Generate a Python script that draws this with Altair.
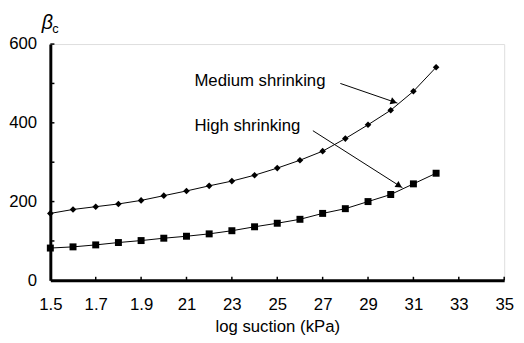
import altair as alt
import pandas as pd

# ---- data ----
log_suction = [1.5, 1.6, 1.7, 1.8, 1.9, 2.0, 2.1, 2.2, 2.3, 2.4,
               2.5, 2.6, 2.7, 2.8, 2.9, 3.0, 3.1, 3.2]
medium = [170, 180, 187, 194, 203, 215, 227, 240, 252, 267,
          285, 305, 328, 360, 395, 432, 480, 541]
high = [82, 85, 90, 96, 101, 107, 112, 118, 126, 136,
        145, 155, 170, 182, 200, 218, 245, 272]

x_ticks = [1.5, 1.7, 1.9, 2.1, 2.3, 2.5, 2.7, 2.9, 3.1, 3.3, 3.5]
x_tick_labels = ["1.5", "1.7", "1.9", "21", "23", "25", "27", "29", "31", "33", "35"]
y_labels = [0, 200, 400, 600]
y_minor = [100, 200, 300, 400, 500, 600]

# annotations (label, text pos, arrow start, arrow end) in data units
ann_text = ["Medium shrinking", "High shrinking"]
ann_tx = [2.135, 2.135]
ann_ty = [505, 393]
arr_x1 = [2.778, 2.657]
arr_y1 = [500, 380]
arr_x2 = [3.030, 3.052]
arr_y2 = [450, 235]
arr_angle = [19, 32.5]

FONT = "Liberation Sans"
FS = 17

df_m = pd.DataFrame({"x": log_suction, "y": medium})
df_h = pd.DataFrame({"x": log_suction, "y": high})

xscale = alt.Scale(domain=[1.5, 3.5], nice=False, zero=False)
yscale = alt.Scale(domain=[0, 600], nice=False)

label_arr = "[" + ",".join("'" + s + "'" for s in x_tick_labels) + "]"

x_axis = alt.Axis(values=x_ticks, labelExpr=label_arr + "[round((datum.value-1.5)/0.2)]",
                  ticks=False, grid=False, domainColor="black", domainWidth=3,
                  labelFont=FONT, labelFontSize=FS, labelColor="black", labelPadding=17,
                  title="log suction (kPa)", titleFont=FONT, titleFontSize=FS,
                  titleFontWeight="normal", titleColor="black", titlePadding=6,
                  labelFlush=False)
y_axis = alt.Axis(values=y_labels, ticks=False, grid=False, domainColor="black",
                  domainWidth=3, labelFont=FONT, labelFontSize=FS, labelColor="black",
                  labelPadding=14, title=None)

line_m = alt.Chart(df_m).mark_line(color="black", strokeWidth=1).encode(
    x=alt.X("x:Q", scale=xscale, axis=x_axis),
    y=alt.Y("y:Q", scale=yscale, axis=y_axis),
)
pts_m = alt.Chart(df_m).mark_point(shape="diamond", filled=True, color="black",
                                   size=45, opacity=1).encode(
    x=alt.X("x:Q", scale=xscale), y=alt.Y("y:Q", scale=yscale))
line_h = alt.Chart(df_h).mark_line(color="black", strokeWidth=1).encode(
    x=alt.X("x:Q", scale=xscale), y=alt.Y("y:Q", scale=yscale))
pts_h = alt.Chart(df_h).mark_point(shape="square", filled=True, color="black",
                                   size=50, opacity=1).encode(
    x=alt.X("x:Q", scale=xscale), y=alt.Y("y:Q", scale=yscale))

# inward minor ticks
df_yt = pd.DataFrame({"y": y_minor})
yticks = alt.Chart(df_yt).mark_rule(color="black", strokeWidth=1.5).encode(
    y=alt.Y("y:Q", scale=yscale),
    x=alt.datum(1.5, scale=xscale), x2=alt.datum(1.518))
df_xt = pd.DataFrame({"x": x_ticks[1:]})
xticks = alt.Chart(df_xt).mark_rule(color="black", strokeWidth=1.5).encode(
    x=alt.X("x:Q", scale=xscale),
    y=alt.datum(0, scale=yscale), y2=alt.datum(9))

# annotations
df_ann = pd.DataFrame({"t": ann_text, "x": ann_tx, "y": ann_ty,
                       "x1": arr_x1, "y1": arr_y1, "x2": arr_x2, "y2": arr_y2,
                       "ang": arr_angle})
ann_txt = alt.Chart(df_ann).mark_text(font=FONT, fontSize=FS, align="left",
                                      baseline="middle", color="black").encode(
    x=alt.X("x:Q", scale=xscale), y=alt.Y("y:Q", scale=yscale), text="t:N")
arrows = alt.Chart(df_ann).mark_rule(color="black", strokeWidth=1).encode(
    x=alt.X("x1:Q", scale=xscale), y=alt.Y("y1:Q", scale=yscale),
    x2="x2:Q", y2="y2:Q")
heads = alt.Chart(df_ann).transform_calculate(
    hx="datum.x2 - 4/230*cos(datum.ang*PI/180)",
    hy="datum.y2 + 4/0.4*sin(datum.ang*PI/180)",
).mark_point(shape="triangle-right", filled=True, color="black", size=55,
             opacity=1).encode(
    x=alt.X("hx:Q", scale=xscale), y=alt.Y("hy:Q", scale=yscale),
    angle=alt.Angle("ang:Q", scale=None))

# y title beta_c
df_beta = pd.DataFrame({"t": ["β"], "x": [1.487], "y": [653]})
df_c = pd.DataFrame({"t": ["c"], "x": [1.523], "y": [638]})
beta = alt.Chart(df_beta).mark_text(font=FONT, fontSize=20, fontStyle="italic",
                                    color="black", baseline="middle").encode(
    x=alt.X("x:Q", scale=xscale), y=alt.Y("y:Q", scale=yscale), text="t:N")
csub = alt.Chart(df_c).mark_text(font=FONT, fontSize=13, color="black",
                                 baseline="middle").encode(
    x=alt.X("x:Q", scale=xscale), y=alt.Y("y:Q", scale=yscale), text="t:N")

chart = alt.layer(line_m, line_h, pts_m, pts_h, yticks, xticks, arrows, heads,
                  ann_txt, beta, csub).properties(
    width=461, height=240,
    padding={"left": 43, "top": 34, "right": 12, "bottom": 60},
    autosize=alt.AutoSizeParams(type="none"),
).configure_view(stroke=None).configure(background="white")

chart.save("out.html", embed_options={"renderer": "svg", "actions": False})
